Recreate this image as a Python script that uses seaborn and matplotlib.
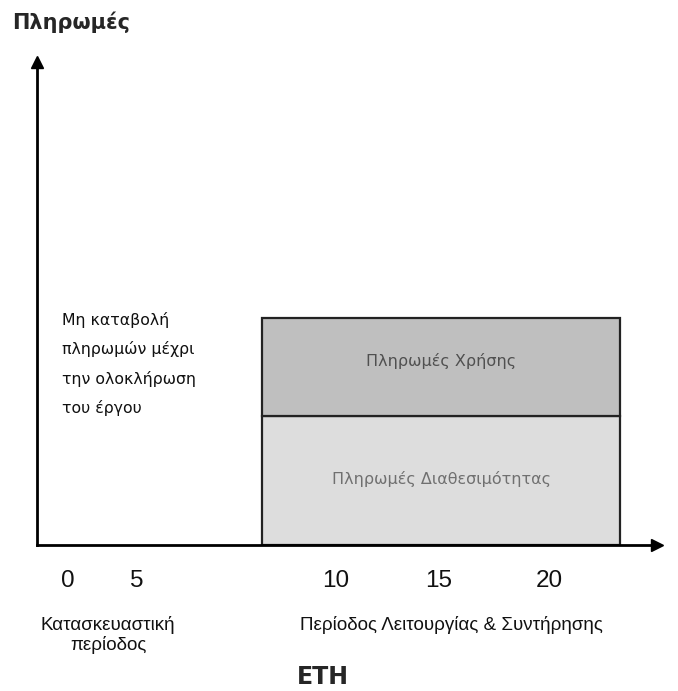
import matplotlib
matplotlib.use("Agg")
import matplotlib.pyplot as plt
import seaborn as sns

# schematic payment profile (not to scale)
tick_labels = ["0", "5", "10", "15", "20"]
tick_pos = [5.0, 16.1, 48.2, 64.8, 82.7]       # where each year label sits on the x axis
bar_start = 36.3
bar_end = 94.1
segments = ["Πληρωμές Διαθεσιμότητας", "Πληρωμές Χρήσης"]
seg_heights = [26.7, 20.3]
seg_colors = ["#dddddd", "#bfbfbf"]
seg_text_colors = ["#707070", "#505050"]
seg_label_frac = [0.51, 0.56]

periods = ["Κατασκευαστική\nπερίοδος", "Περίοδος Λειτουργίας & Συντήρησης"]
period_pos = [11.5, 66.8]

note = "Μη καταβολή\nπληρωμών μέχρι\nτην ολοκλήρωση\nτου έργου"

sns.set_style("white")
plt.rcParams["font.family"] = ["DejaVu Sans"]
arial = ["Liberation Sans", "DejaVu Sans"]

fig = plt.figure(figsize=(6.78, 6.91), dpi=100)
ax = fig.add_axes([37 / 678, 146 / 691, (657 - 37) / 678, (545 - 62) / 691])
ax.set_xlim(0, 100)
ax.set_ylim(0, 100)

# stacked bar
bottom = 0
for name, h, c, tc, f in zip(segments, seg_heights, seg_colors, seg_text_colors, seg_label_frac):
    ax.bar(bar_start, h, width=bar_end - bar_start, bottom=bottom, align="edge",
           color=c, edgecolor="#222222", linewidth=1.6, zorder=2)
    ax.text((bar_start + bar_end) / 2, bottom + h * f, name, ha="center", va="center",
            fontsize=11.5, color=tc, zorder=3)
    bottom += h

ax.text(4.0, 48.2, note, ha="left", va="top", fontsize=11.3, color="#111111",
        linespacing=2.02)

# axes with arrow heads
sns.despine(ax=ax, top=True, right=True)
for side in ["left", "bottom"]:
    ax.spines[side].set_linewidth(2)
    ax.spines[side].set_color("black")
ax.plot(1, 0, ">", color="black", markersize=9, transform=ax.transAxes, clip_on=False)
ax.plot(0, 1, "^", color="black", markersize=9, transform=ax.transAxes, clip_on=False)

ax.set_yticks([])
ax.set_xticks(tick_pos, tick_labels)
ax.tick_params(axis="x", length=0, pad=18)
for lbl in ax.get_xticklabels():
    lbl.set_fontsize(17.5)
    lbl.set_family(arial)
    lbl.set_color("#111111")

for p, txt in zip(period_pos, periods):
    ax.text(p, -0.147, txt, transform=ax.get_xaxis_transform(), ha="center", va="top",
            fontsize=13.5, family=arial, linespacing=1.15, color="#111111")

fig.text(323 / 678, 1 - 677 / 691, "ΕΤΗ", ha="center", va="center",
         fontsize=17, fontweight="bold")
fig.text(12 / 678, 1 - 22 / 691, "Πληρωμές", ha="left", va="center",
         fontsize=15, fontweight="bold")

fig.savefig("out.png", dpi=100, facecolor="white")
